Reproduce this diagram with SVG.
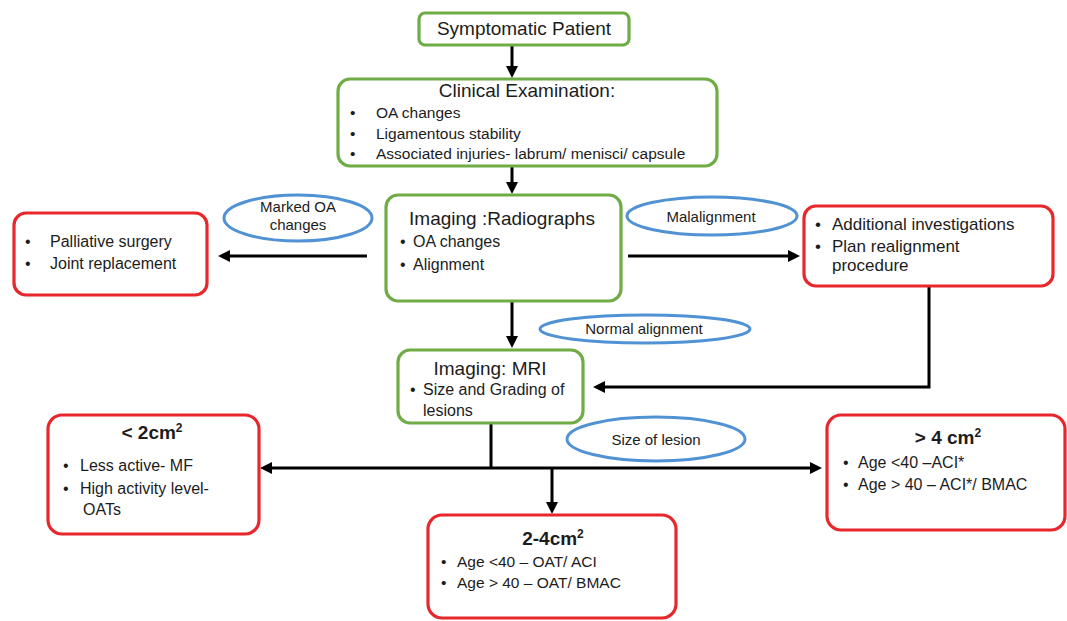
<svg xmlns="http://www.w3.org/2000/svg" width="1067" height="621" viewBox="0 0 1067 621">
<defs>
<style>
.g{fill:#fff;stroke:#6fac46;stroke-width:3.2}
.r{fill:#fff;stroke:#e8272c;stroke-width:3.2}
.o{fill:#fff;stroke:#5092d3;stroke-width:3}
text{font-family:"Liberation Sans",Arial,sans-serif;fill:#1c1c1c}
.t{font-size:19px;text-anchor:middle}
.tb{font-size:19px;font-weight:bold;text-anchor:middle}
.b{font-size:15.5px}
.b16{font-size:16px}
.b17{font-size:17px}
.ol{font-size:15px;text-anchor:middle}
.c{fill:none;stroke:#000;stroke-width:3}
</style>
<marker id="ah" viewBox="0 0 12 12" refX="4" refY="6" markerWidth="12" markerHeight="12" markerUnits="userSpaceOnUse" orient="auto">
<path d="M0,0 L12,6 L0,12 z" fill="#000"/>
</marker>
</defs>

<g id="connectors">
<path class="c" d="M512,46 V70" marker-end="url(#ah)"/>
<path class="c" d="M512,167 V186" marker-end="url(#ah)"/>
<path class="c" d="M367,256 H226" marker-end="url(#ah)"/>
<path class="c" d="M628,256 H792" marker-end="url(#ah)"/>
<path class="c" d="M512,302 V340" marker-end="url(#ah)"/>
<path class="c" d="M929,287 V387 H601" marker-end="url(#ah)"/>
<path class="c" d="M491,424 V468"/>
<path class="c" d="M491,468 H268" marker-end="url(#ah)"/>
<path class="c" d="M491,468 H814" marker-end="url(#ah)"/>
<path class="c" d="M552,468 V506" marker-end="url(#ah)"/>
</g>

<g id="symptomatic">
<rect class="g" x="419" y="13" width="210" height="32" rx="6"/>
<text class="t" x="524" y="35">Symptomatic Patient</text>
</g>

<g id="clinical">
<rect class="g" x="338" y="79" width="379" height="87" rx="12"/>
<text class="t" x="527" y="97">Clinical Examination:</text>
<text class="b" x="350" y="118">•</text><text class="b" x="376" y="118">OA changes</text>
<text class="b" x="350" y="139">•</text><text class="b" x="376" y="139">Ligamentous stability</text>
<text class="b" x="350" y="159">•</text><text class="b" x="376" y="159">Associated injuries- labrum/ menisci/ capsule</text>
</g>

<g id="radiographs">
<rect class="g" x="386" y="195" width="235" height="106" rx="12"/>
<text class="t" x="502" y="225">Imaging :Radiographs</text>
<text class="b16" x="400" y="247">•</text><text class="b16" x="413" y="247">OA changes</text>
<text class="b16" x="400" y="270">•</text><text class="b16" x="413" y="270">Alignment</text>
</g>

<g id="marked-oa">
<ellipse class="o" cx="298" cy="218" rx="74" ry="23"/>
<text class="ol" x="298" y="212">Marked OA</text>
<text class="ol" x="298" y="230">changes</text>
</g>

<g id="palliative">
<rect class="r" x="14" y="213" width="193" height="82" rx="12"/>
<text class="b16" x="25" y="247">•</text><text class="b16" x="50" y="247">Palliative surgery</text>
<text class="b16" x="25" y="269">•</text><text class="b16" x="50" y="269">Joint replacement</text>
</g>

<g id="malalignment">
<ellipse class="o" cx="712" cy="216" rx="85" ry="19"/>
<text class="ol" x="711" y="222">Malalignment</text>
</g>

<g id="additional">
<rect class="r" x="804" y="206" width="249" height="80" rx="12"/>
<text class="b17" x="815" y="230">•</text><text class="b17" x="832" y="230">Additional investigations</text>
<text class="b17" x="815" y="252">•</text><text class="b17" x="832" y="252">Plan realignment</text>
<text class="b17" x="832" y="271">procedure</text>
</g>

<g id="normal-alignment">
<ellipse class="o" cx="645" cy="329" rx="105" ry="14"/>
<text class="ol" x="644" y="334">Normal alignment</text>
</g>

<g id="mri">
<rect class="g" x="398" y="350" width="185" height="73" rx="12"/>
<text class="t" x="490" y="375">Imaging: MRI</text>
<text class="b16" x="410" y="395">•</text><text class="b16" x="423" y="395">Size and Grading of</text>
<text class="b16" x="423" y="416">lesions</text>
</g>

<g id="size-of-lesion">
<ellipse class="o" cx="656" cy="439" rx="89" ry="22"/>
<text class="ol" x="656" y="445">Size of lesion</text>
</g>

<g id="lt2">
<rect class="r" x="48" y="415" width="211" height="119" rx="14"/>
<text class="tb" x="152" y="439">&lt; 2cm<tspan font-size="12" dy="-7">2</tspan></text>
<text class="b16" x="63" y="471">•</text><text class="b16" x="80" y="471">Less active- MF</text>
<text class="b16" x="63" y="494">•</text><text class="b16" x="80" y="494">High activity level-</text>
<text class="b16" x="83" y="515">OATs</text>
</g>

<g id="gt4">
<rect class="r" x="827" y="415" width="238" height="115" rx="14"/>
<text class="tb" x="948" y="444">&gt; 4 cm<tspan font-size="12" dy="-7">2</tspan></text>
<text class="b16" x="843" y="468">•</text><text class="b16" x="858" y="468">Age &lt;40 –ACI*</text>
<text class="b16" x="843" y="490">•</text><text class="b16" x="858" y="490">Age &gt; 40 – ACI*/ BMAC</text>
</g>

<g id="two-four">
<rect class="r" x="428" y="515" width="248" height="103" rx="14"/>
<text class="tb" x="553" y="545">2-4cm<tspan font-size="12" dy="-7">2</tspan></text>
<text class="b" x="441" y="567">•</text><text class="b" x="457" y="567">Age &lt;40 – OAT/ ACI</text>
<text class="b" x="441" y="588">•</text><text class="b" x="457" y="588">Age &gt; 40 – OAT/ BMAC</text>
</g>
</svg>
